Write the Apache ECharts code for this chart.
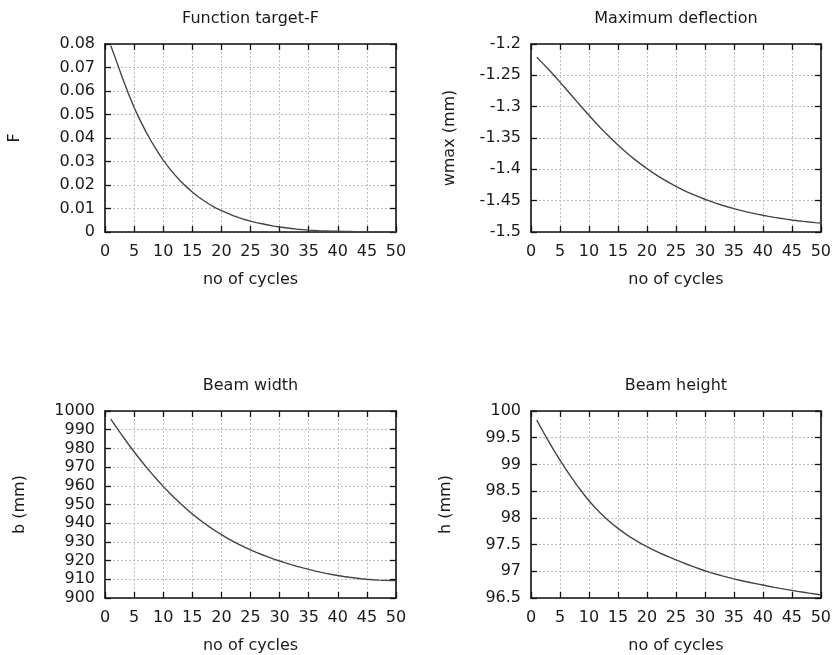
<!DOCTYPE html>
<html>
<head>
<meta charset="utf-8">
<script src="https://cdn.jsdelivr.net/npm/echarts@6/dist/echarts.min.js"></script>
<style>
  html, body { margin: 0; padding: 0; background: #fff; }
  #chart { width: 834px; height: 655px; }
</style>
</head>
<body>
<div id="chart"></div>
<script>
// Optimisation history: one value per cycle
const cycles = [1, 2, 3, 4, 5, 6, 7, 8, 9, 10, 11, 12, 13, 14, 15, 16, 17, 18, 19, 20,
  21, 22, 23, 24, 25, 26, 27, 28, 29, 30, 31, 32, 33, 34, 35, 36, 37, 38, 39, 40,
  41, 42, 43, 44, 45, 46, 47, 48, 49, 50];

const targetF = [0.0793, 0.0725, 0.0655, 0.0590, 0.0530, 0.0477, 0.0428, 0.0384, 0.0343, 0.0306,
  0.0273, 0.0243, 0.0216, 0.0192, 0.0170, 0.0150, 0.0133, 0.0117, 0.0103, 0.0091,
  0.0080, 0.0070, 0.0061, 0.0053, 0.0046, 0.0040, 0.0035, 0.0030, 0.0025, 0.0021,
  0.0018, 0.0015, 0.0012, 0.0010, 0.0008, 0.0007, 0.0005, 0.0004, 0.0003, 0.0003,
  0.0002, 0.0002, 0.0001, 0.0001, 0.0001, 0.0001, 0.0001, 0.0001, 0.0001, 0.0001];

const maxDeflection = [-1.2210, -1.2305, -1.2403, -1.2504, -1.2608, -1.2714, -1.2821, -1.2928, -1.3034, -1.3138,
  -1.3240, -1.3339, -1.3434, -1.3525, -1.3612, -1.3695, -1.3774, -1.3849, -1.3920, -1.3988,
  -1.4052, -1.4112, -1.4168, -1.4221, -1.4271, -1.4318, -1.4362, -1.4403, -1.4441, -1.4477,
  -1.4511, -1.4543, -1.4573, -1.4601, -1.4627, -1.4651, -1.4674, -1.4695, -1.4715, -1.4733,
  -1.4750, -1.4766, -1.4781, -1.4795, -1.4808, -1.4820, -1.4831, -1.4841, -1.4850, -1.4858];

const beamWidth = [995.70, 991.10, 986.65, 982.35, 978.20, 974.20, 970.35, 966.65, 963.10, 959.70,
  956.45, 953.35, 950.40, 947.60, 944.95, 942.45, 940.10, 937.90, 935.83, 933.88,
  932.05, 930.33, 928.71, 927.19, 925.76, 924.41, 923.14, 921.95, 920.83, 919.78,
  918.78, 917.83, 916.93, 916.08, 915.28, 914.53, 913.83, 913.18, 912.58, 912.03,
  911.53, 911.08, 910.68, 910.33, 910.03, 909.78, 909.58, 909.43, 909.33, 909.28];

const beamHeight = [99.830, 99.630, 99.440, 99.255, 99.080, 98.912, 98.752, 98.600, 98.456, 98.321,
  98.199, 98.087, 97.985, 97.891, 97.804, 97.724, 97.650, 97.582, 97.519, 97.461,
  97.406, 97.354, 97.305, 97.259, 97.215, 97.170, 97.127, 97.086, 97.047, 97.010,
  96.976, 96.944, 96.914, 96.886, 96.859, 96.833, 96.809, 96.786, 96.764, 96.743,
  96.721, 96.700, 96.680, 96.661, 96.643, 96.625, 96.608, 96.591, 96.575, 96.559];

// Axis ranges: [min, max, step]
const cycleRange = [0, 50, 5];
const fRange = [0, 0.08, 0.01];
const wmaxRange = [-1.5, -1.2, 0.05];
const bRange = [900, 1000, 10];
const hRange = [96.5, 100, 0.5];

const titles = ['Function target-F', 'Maximum deflection', 'Beam width', 'Beam height'];
const yNames = ['F', 'wmax (mm)', 'b (mm)', 'h (mm)'];
const xName = 'no of cycles';

const panels = [
  { values: targetF, range: fRange, box: { left: 105, top: 44, width: 291, height: 188 }, nameGap: 82 },
  { values: maxDeflection, range: wmaxRange, box: { left: 531, top: 44, width: 290, height: 188 }, nameGap: 73 },
  { values: beamWidth, range: bRange, box: { left: 105, top: 411, width: 291, height: 187 }, nameGap: 77 },
  { values: beamHeight, range: hRange, box: { left: 531, top: 411, width: 290, height: 187 }, nameGap: 77 }
];

const FONT = 'DejaVu Sans';
const INK = '#1a1a1a';
const frame = { show: true, onZero: false, lineStyle: { color: '#111', width: 1.6 } };
const ticks = { show: true, inside: true, length: 6, lineStyle: { color: '#111', width: 1.3 } };
const gridDots = { show: true, lineStyle: { color: '#bdbdbd', width: 1, type: [2, 2] } };
const fmt = v => String(parseFloat(Number(v).toFixed(6)));

const grid = [], xAxis = [], yAxis = [], series = [];
panels.forEach((p, i) => {
  grid.push(Object.assign({ containLabel: false }, p.box));
  // bottom axis with labels and vertical grid lines
  xAxis.push({
    type: 'value', gridIndex: i, position: 'bottom',
    min: cycleRange[0], max: cycleRange[1], interval: cycleRange[2],
    axisLine: frame, axisTick: ticks, splitLine: gridDots,
    axisLabel: { color: INK, fontFamily: FONT, fontSize: 16, margin: 12, formatter: fmt },
    name: xName, nameLocation: 'middle', nameGap: 40,
    nameTextStyle: { color: INK, fontFamily: FONT, fontSize: 16 }
  });
  // top mirror axis, carrying the panel title
  xAxis.push({
    type: 'value', gridIndex: i, position: 'top',
    min: cycleRange[0], max: cycleRange[1], interval: cycleRange[2],
    axisLine: frame, axisTick: ticks, splitLine: { show: false },
    axisLabel: { show: false },
    name: titles[i], nameLocation: 'middle', nameGap: 17,
    nameTextStyle: { color: INK, fontFamily: FONT, fontSize: 16 }
  });
  // left axis with labels and horizontal grid lines
  yAxis.push({
    type: 'value', gridIndex: i, position: 'left',
    min: p.range[0], max: p.range[1], interval: p.range[2],
    axisLine: frame, axisTick: ticks, splitLine: gridDots,
    axisLabel: { color: INK, fontFamily: FONT, fontSize: 16, margin: 10, formatter: fmt },
    name: yNames[i], nameLocation: 'middle', nameRotate: 90, nameGap: p.nameGap,
    nameTextStyle: { color: INK, fontFamily: FONT, fontSize: 16 }
  });
  // right mirror axis
  yAxis.push({
    type: 'value', gridIndex: i, position: 'right',
    min: p.range[0], max: p.range[1], interval: p.range[2],
    axisLine: frame, axisTick: ticks, splitLine: { show: false },
    axisLabel: { show: false }
  });
  series.push({
    type: 'line', xAxisIndex: 2 * i, yAxisIndex: 2 * i,
    showSymbol: false, silent: true,
    lineStyle: { color: '#444', width: 1.4 },
    data: cycles.map((c, k) => [c, p.values[k]])
  });
});

const chart = echarts.init(document.getElementById('chart'), null, { renderer: 'canvas' });
chart.setOption({
  animation: false,
  backgroundColor: '#ffffff',
  textStyle: { fontFamily: FONT },
  grid, xAxis, yAxis, series
});
</script>
</body>
</html>
